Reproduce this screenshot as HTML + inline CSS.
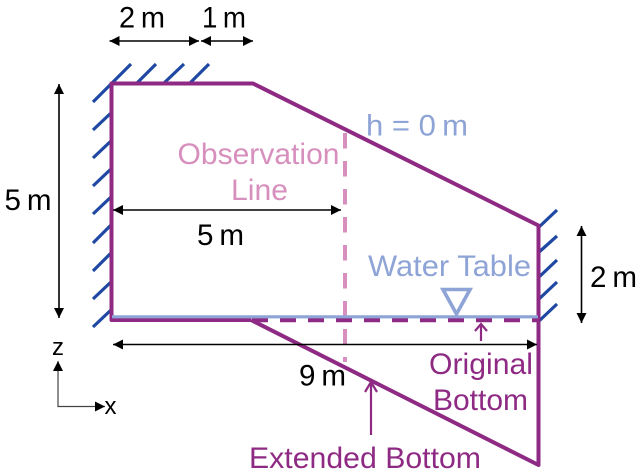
<!DOCTYPE html>
<html>
<head>
<meta charset="utf-8">
<style>
html,body{margin:0;padding:0;background:#fff;}
svg{display:block;}
text{font-family:"Liberation Sans",sans-serif;font-size:29.5px;}
</style>
</head>
<body>
<svg width="642" height="476" viewBox="0 0 642 476" xmlns="http://www.w3.org/2000/svg">
<defs>
<marker id="a" markerUnits="userSpaceOnUse" markerWidth="10" markerHeight="10" refX="10" refY="5" orient="auto-start-reverse"><path d="M0 0L10 5L0 10Z" fill="#000"/></marker>
</defs>
<!-- hatches -->
<g stroke="#1f48a3" stroke-width="3.2" fill="none">
<path d="M93 102L131 64M137 83L156 64M164 83L184 64M190 83L209 64"/>
<path d="M93 130L112 112M93 158L112 140M93 186L112 168M93 214L112 196M93 243L112 224M93 271L112 252M93 299L112 281M93 327L112 309"/>
<path d="M538 228L557 210M538 253L557 236M538 278L557 260M538 300L557 282M538 322L557 304"/>
</g>
<!-- observation line -->
<path d="M345 133V362" stroke="#d78fbd" stroke-width="4" stroke-dasharray="15.5 12.5" fill="none"/>
<!-- domain -->
<g fill="none" stroke="#8e2a83" stroke-linejoin="round">
<path d="M251 320H111.5V83.5H253L538.5 225.5V465L251 320" stroke-width="4"/>
<path d="M252 320H540" stroke-width="4.400" stroke-dasharray="16 12"/>
</g>
<!-- water table -->
<path d="M112 316.800H538" stroke="#8ea3d6" stroke-width="3.200" fill="none"/>
<path d="M443 289.500H470L456.500 314Z" stroke="#8ea3d6" stroke-width="3.600" fill="none"/>
<!-- dimension arrows -->
<g stroke="#000" stroke-width="1.600" fill="none">
<path d="M109.500 41H199" marker-start="url(#a)" marker-end="url(#a)"/>
<path d="M201 41H253" marker-start="url(#a)" marker-end="url(#a)"/>
<path d="M59 84V318" marker-start="url(#a)" marker-end="url(#a)"/>
<path d="M581.500 226V323" marker-start="url(#a)" marker-end="url(#a)"/>
<path d="M113 210H341" marker-start="url(#a)" marker-end="url(#a)"/>
<path d="M113 344.500H537" marker-start="url(#a)" marker-end="url(#a)"/>
</g>
<g stroke="#444" stroke-width="1.200" fill="none">
<path d="M58 361V406.500H105"/>
</g>
<path d="M58 361L63 371H53Z" fill="#000"/>
<path d="M105 406.500L95 401.500V411.500Z" fill="#000"/>
<!-- purple pointers -->
<g stroke="#8e2a83" stroke-width="2.200" fill="none">
<path d="M481 341V324M475 331L481 324L487 331"/>
<path d="M371 435V382M365 392L371 382L377 392"/>
</g>
<!-- labels -->
<g fill="#000">
<text x="119" y="27.500" textLength="46" lengthAdjust="spacingAndGlyphs">2&#8201;m</text>
<text x="202" y="27.500" textLength="44" lengthAdjust="spacingAndGlyphs">1&#8201;m</text>
<text x="4.500" y="210" textLength="47" lengthAdjust="spacingAndGlyphs">5&#8201;m</text>
<text x="197" y="245" textLength="47" lengthAdjust="spacingAndGlyphs">5&#8201;m</text>
<text x="299" y="385.500" textLength="47" lengthAdjust="spacingAndGlyphs">9&#8201;m</text>
<text x="590" y="287" textLength="47" lengthAdjust="spacingAndGlyphs">2&#8201;m</text>
<text x="52" y="355" style="font-size:24px">z</text>
<text x="104.500" y="414" style="font-size:24px">x</text>
</g>
<g fill="#d78fbd">
<text x="177.500" y="164" textLength="162" lengthAdjust="spacingAndGlyphs">Observation</text>
<text x="231" y="200" textLength="57" lengthAdjust="spacingAndGlyphs">Line</text>
</g>
<g fill="#8ea3d6">
<text x="366" y="135.500" textLength="102" lengthAdjust="spacingAndGlyphs">h = 0&#8201;m</text>
<text x="368" y="276" textLength="163" lengthAdjust="spacingAndGlyphs">Water Table</text>
</g>
<g fill="#8e2a83">
<text x="429" y="374" textLength="104" lengthAdjust="spacingAndGlyphs">Original</text>
<text x="433" y="410" textLength="95" lengthAdjust="spacingAndGlyphs">Bottom</text>
<text x="249" y="468" textLength="232" lengthAdjust="spacingAndGlyphs">Extended Bottom</text>
</g>
</svg>
</body>
</html>
